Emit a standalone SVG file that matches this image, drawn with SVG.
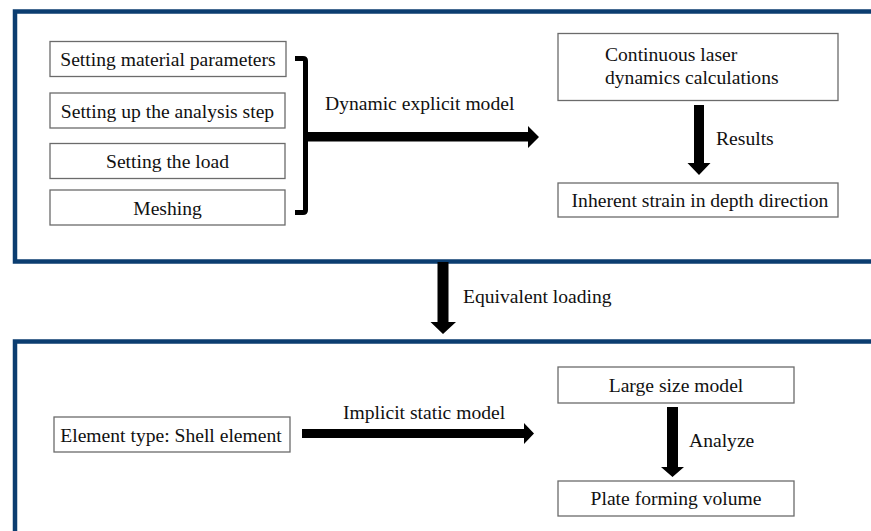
<svg xmlns="http://www.w3.org/2000/svg" width="871" height="531" viewBox="0 0 871 531">
<style>
.panel{fill:none;stroke:#0b3d70;stroke-width:4.5}
.box{fill:#fff;stroke:#6b6b6b;stroke-width:1.3}
.arr{fill:#000}
</style>
<rect width="871" height="531" fill="#fff"/>
<g id="panel-top"><rect class="panel" x="15" y="11.5" width="880" height="250"/></g>
<g id="panel-bottom"><rect class="panel" x="15" y="341.5" width="880" height="220"/></g>

<g font-family="Liberation Serif, serif" font-size="19.6" fill="#111">
<g id="n-material"><rect class="box" x="50" y="41.5" width="236" height="35"/><text text-anchor="middle" x="168" y="66">Setting material parameters</text></g>
<g id="n-step"><rect class="box" x="50" y="93" width="235" height="35"/><text text-anchor="middle" x="167.5" y="117.5">Setting up the analysis step</text></g>
<g id="n-load"><rect class="box" x="50" y="143.5" width="235" height="35"/><text text-anchor="middle" x="167.5" y="168">Setting the load</text></g>
<g id="n-mesh"><rect class="box" x="50" y="190" width="235" height="35"/><text text-anchor="middle" x="167.5" y="214.5">Meshing</text></g>

<g id="n-laser"><rect class="box" x="558" y="33.5" width="280" height="67"/><text x="605" y="61">Continuous laser</text><text x="605" y="83.5">dynamics calculations</text></g>
<g id="n-strain"><rect class="box" x="558" y="183" width="280" height="34"/><text text-anchor="middle" x="700" y="207">Inherent strain in depth direction</text></g>

<g id="n-shell"><rect class="box" x="54" y="417" width="236" height="35"/><text text-anchor="middle" x="171" y="442">Element type: Shell element</text></g>
<g id="n-large"><rect class="box" x="558" y="367" width="236" height="36"/><text text-anchor="middle" x="676" y="392">Large size model</text></g>
<g id="n-plate"><rect class="box" x="558" y="481" width="236" height="35"/><text text-anchor="middle" x="676" y="505">Plate forming volume</text></g>

<g id="connectors">
<path d="M295,58.5 H303 Q305.5,58.5 305.5,61 V210 Q305.5,212.5 303,212.5 H295" fill="none" stroke="#000" stroke-width="5"/>
<polygon class="arr" points="305,132 528,132 528,126 539,137 528,148 528,141.5 305,141.5"/>
<text x="325" y="110">Dynamic explicit model</text>

<polygon class="arr" points="694,105 704,105 704,163 710.5,163 699,175 687.5,163 694,163"/>
<text x="716" y="145">Results</text>

<polygon class="arr" points="437.5,262 448.5,262 448.5,322 456,322 443,334 430.5,322 437.5,322"/>
<text x="463" y="303">Equivalent loading</text>

<polygon class="arr" points="302,429 524,429 524,423 534,433.5 524,444 524,438 302,438"/>
<text x="343" y="419">Implicit static model</text>

<polygon class="arr" points="667,407 678,407 678,467 684,467 672.5,477 661,467 667,467"/>
<text x="689" y="447">Analyze</text>
</g>
</g>
</svg>
